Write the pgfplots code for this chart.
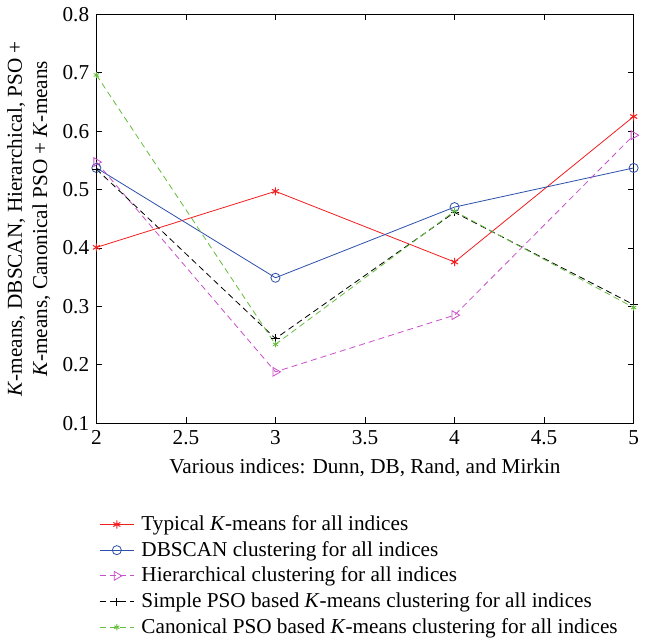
\documentclass[border=0pt]{standalone}
\usepackage{pgfplots}
\pgfplotsset{compat=1.18}
\usepackage{fontspec}
\setmainfont{Liberation Serif}
\definecolor{cred}{RGB}{240,30,30}
\definecolor{cblue}{RGB}{45,80,170}
\definecolor{cmag}{RGB}{200,80,200}
\definecolor{cgreen}{RGB}{100,190,60}
\begin{document}
\fontsize{21}{25}\selectfont
\begin{tikzpicture}
\begin{axis}[
  width=532pt, height=405pt, scale only axis,
  xmin=2, xmax=5, ymin=0.1, ymax=0.8,
  xtick={2,2.5,3,3.5,4,4.5,5},
  ytick={0.1,0.2,0.3,0.4,0.5,0.6,0.7,0.8},
  yticklabel style={/pgf/number format/.cd, fixed, fixed zerofill, precision=1},
  /pgf/number format/assume math mode=true,
  tick align=inside,
  major tick length=6pt,
  axis line style={line width=1.2pt},
  tick style={line width=0.8pt, black},
  ticklabel style={font=\fontsize{21}{25}\selectfont},
  label style={font=\fontsize{21}{25}\selectfont},
  xlabel={Various indices: Dunn, DB, Rand, and Mirkin},
  ylabel={\textit{K}-means, DBSCAN, Hierarchical, PSO +\\\textit{K}-means, Canonical PSO + \textit{K}-means},
  ylabel style={align=center, yshift=-2pt},
  xlabel style={yshift=0pt},
  legend cell align=left,
  legend style={at={(0.005,-0.215)}, anchor=north west, draw=none, font=\fontsize{21}{25}\selectfont, row sep=3.5pt, inner xsep=0pt, nodes={inner xsep=7pt}},
  legend image code/.code={\draw[mark repeat=2,mark phase=2] plot coordinates {(0pt,0pt) (17pt,0pt) (34pt,0pt)};},
  every axis plot/.append style={line width=0.8pt},
]
\addplot[cred, mark=asterisk, mark size=4pt, mark options={solid, line width=1pt}] coordinates {(2,0.401) (3,0.497) (4,0.376) (5,0.625)};
\addlegendentry{Typical \textit{K}-means for all indices}
\addplot[cblue, mark=o, mark size=4.5pt, mark options={solid}] coordinates {(2,0.537) (3,0.349) (4,0.470) (5,0.537)};
\addlegendentry{DBSCAN clustering for all indices}
\addplot[cmag, dash pattern=on 6pt off 4pt, mark=triangle, mark size=5pt, mark options={solid, rotate=-90}] coordinates {(2,0.547) (3,0.188) (4,0.285) (5,0.593)};
\addlegendentry{Hierarchical clustering for all indices}
\addplot[black, dash pattern=on 6pt off 4pt, mark=+, mark size=4pt, mark options={solid, line width=1pt}] coordinates {(2,0.535) (3,0.245) (4,0.461) (5,0.303)};
\addlegendentry{Simple PSO based \textit{K}-means clustering for all indices}
\addplot[cgreen, dash pattern=on 6pt off 4pt, mark=asterisk, mark size=3pt, mark options={solid}] coordinates {(2,0.696) (3,0.235) (4,0.463) (5,0.298)};
\addlegendentry{Canonical PSO based \textit{K}-means clustering for all indices}
\end{axis}
\end{tikzpicture}
\end{document}
